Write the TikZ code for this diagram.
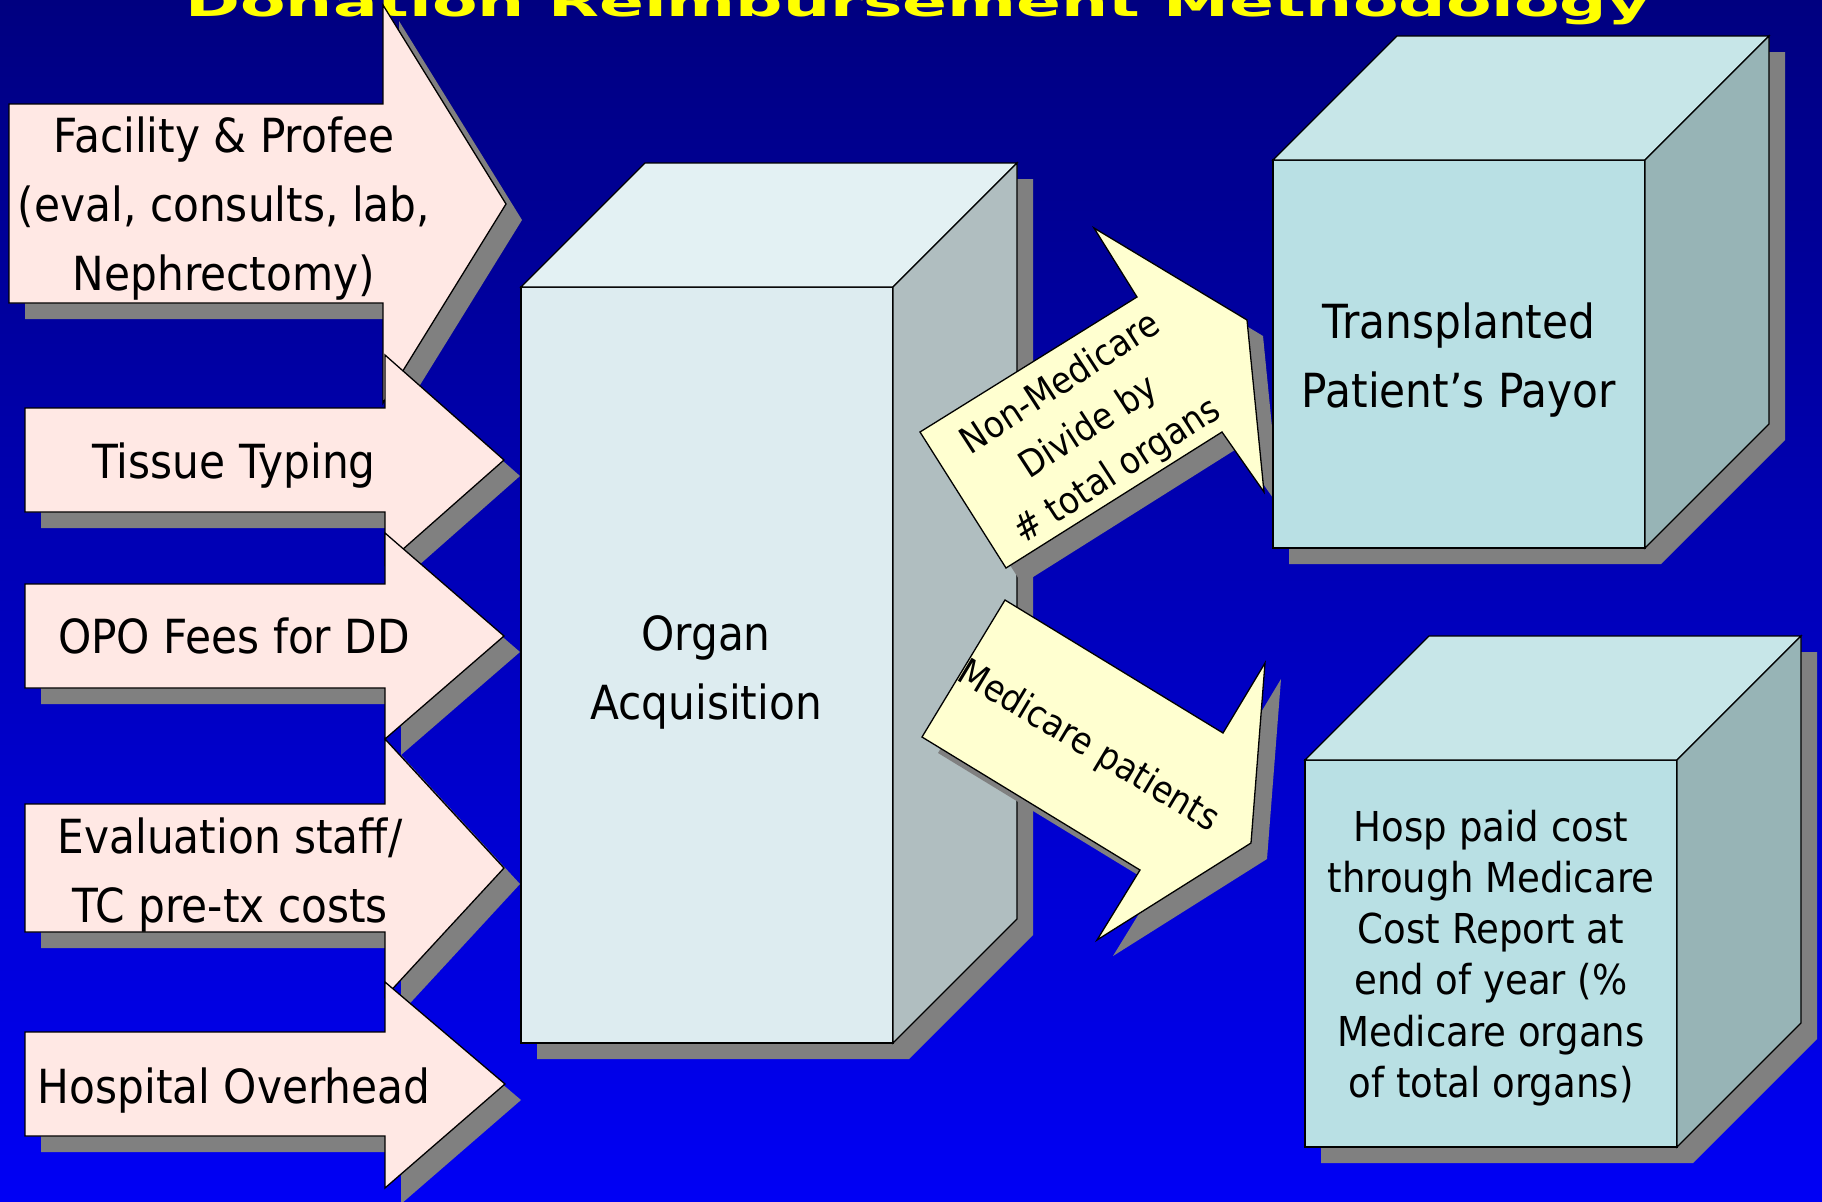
\documentclass[tikz,border=0pt]{standalone}
\usepackage{fontspec}
\usepackage{graphicx}
\setmainfont{DejaVu Sans}[FakeStretch=0.9]
\definecolor{bgtop}{RGB}{0,0,128}
\definecolor{bgbot}{RGB}{0,0,245}
\definecolor{pinkc}{RGB}{255,232,228}
\definecolor{yellowc}{RGB}{255,255,208}
\definecolor{shadowc}{RGB}{128,128,128}
\definecolor{organfront}{RGB}{221,236,240}
\definecolor{organtop}{RGB}{227,241,243}
\definecolor{organside}{RGB}{176,190,192}
\definecolor{payorfront}{RGB}{185,224,228}
\definecolor{payortop}{RGB}{199,230,232}
\definecolor{payorside}{RGB}{151,180,182}
\definecolor{titlec}{RGB}{255,255,0}

\tikzset{
  shadowfill/.style={fill=shadowc, draw=none},
  outline/.style={draw=black, line width=0.65pt, line join=miter},
  pinkshape/.style={outline, fill=pinkc},
  yellowshape/.style={outline, fill=yellowc},
  maintext/.style={inner sep=0pt, align=center, font=\fontsize{23.5pt}{34.5pt}\selectfont},
  smalltext/.style={inner sep=0pt, align=center, font=\fontsize{20.6pt}{25.65pt}\selectfont},
  arrowtext/.style={inner sep=0pt, align=center, font=\fontsize{18.4pt}{26pt}\selectfont},
}

% #1 left x, #2 shaft x, #3 tip x, #4 head top y, #5 body top y, #6 tip y, #7 body bottom y, #8 head bottom y
\newcommand\costarrow[8]{%
  \fill[shadowfill, shift={(16,16)}] (#1,#5) -- (#2,#5) -- (#2,#4) -- (#3,#6) -- (#2,#8) -- (#2,#7) -- (#1,#7) -- cycle;
  \filldraw[pinkshape] (#1,#5) -- (#2,#5) -- (#2,#4) -- (#3,#6) -- (#2,#8) -- (#2,#7) -- (#1,#7) -- cycle;
}
% #1 L, #2 T, #3 R, #4 B, #5 front, #6 top, #7 side
\newcommand\costcube[7]{%
  \fill[shadowfill, shift={(16,16)}] (#1,#4) -- (#1,#2) -- ({#1+124},{#2-124}) -- ({#3+124},{#2-124}) -- ({#3+124},{#4-124}) -- (#3,#4) -- cycle;
  \filldraw[outline, fill=#5] (#1,#2) rectangle (#3,#4);
  \filldraw[outline, fill=#6] (#1,#2) -- ({#1+124},{#2-124}) -- ({#3+124},{#2-124}) -- (#3,#2) -- cycle;
  \filldraw[outline, fill=#7] (#3,#2) -- ({#3+124},{#2-124}) -- ({#3+124},{#4-124}) -- (#3,#4) -- cycle;
}

\begin{document}
\begin{tikzpicture}[x=0.5pt, y=-0.5pt]
\useasboundingbox (0,0) rectangle (1822,1201);
\clip (0,0) rectangle (1822,1201);
\shade[top color=bgtop, bottom color=bgbot] (0,0) rectangle (1822,1201);

% title (cut off at the top)
\node[anchor=base, text=titlec, inner sep=0pt] (title) at (918,16)
  {\scalebox{1}[0.53]{\resizebox{732.5pt}{!}{\bfseries Donation Reimbursement Methodology}}};

% left cost arrows
\costarrow{9}{383}{506}{5}{104}{204}{303}{403}
\costarrow{25}{385}{504}{355}{408}{460}{512}{565}
\costarrow{25}{385}{504}{533}{584}{636}{688}{739}
\costarrow{25}{385}{504}{739}{804}{868}{932}{997}
\costarrow{25}{385}{505}{982}{1032}{1084}{1136}{1188}

\node[maintext] (t1) at (224,208) {\strut Facility \& Profee\\(eval, consults, lab,\\Nephrectomy)\strut};
\node[maintext, anchor=base] (t2) at (234,478) {Tissue Typing};
\node[maintext, anchor=base] (t3) at (234,653) {OPO Fees for DD};
\node[maintext] (t4) at (230,874) {\strut Evaluation staff/\\TC pre-tx costs\strut};
\node[maintext, anchor=base] (t5) at (234,1103) {Hospital Overhead};

% organ acquisition cube
\costcube{521}{287}{893}{1043}{organfront}{organtop}{organside}
\node[maintext] (organ) at (706,671) {\strut Organ\\Acquisition\strut};

% yellow arrows
\fill[shadowfill, shift={(16,16)}] (920,432) -- (1137,297) -- (1094,228) -- (1247,320) -- (1264,492) -- (1222,432) -- (1006,568) -- cycle;
\filldraw[yellowshape] (920,432) -- (1137,297) -- (1094,228) -- (1247,320) -- (1264,492) -- (1222,432) -- (1006,568) -- cycle;
\node[arrowtext, rotate=33] (nonmed) at (1089,428) {\strut Non-Medicare\\Divide by\\\# total organs\strut};

\fill[shadowfill, shift={(16,16)}] (1005,600) -- (1223,733) -- (1265,663) -- (1251,843) -- (1097,940) -- (1140,870) -- (922,737) -- cycle;
\filldraw[yellowshape] (1005,600) -- (1223,733) -- (1265,663) -- (1251,843) -- (1097,940) -- (1140,870) -- (922,737) -- cycle;
\node[arrowtext, rotate=-31] (med) at (1088,747) {Medicare patients};

% right cubes
\costcube{1273}{160}{1645}{548}{payorfront}{payortop}{payorside}
\node[maintext] (payor) at (1459,359) {\strut Transplanted\\Patient’s Payor\strut};

\costcube{1305}{760}{1677}{1147}{payorfront}{payortop}{payorside}
\node[smalltext] (hosp) at (1491,959) {\strut Hosp paid cost\\through Medicare\\Cost Report at\\end of year (\%\\Medicare organs\\of total organs)\strut};
\end{tikzpicture}
\end{document}
